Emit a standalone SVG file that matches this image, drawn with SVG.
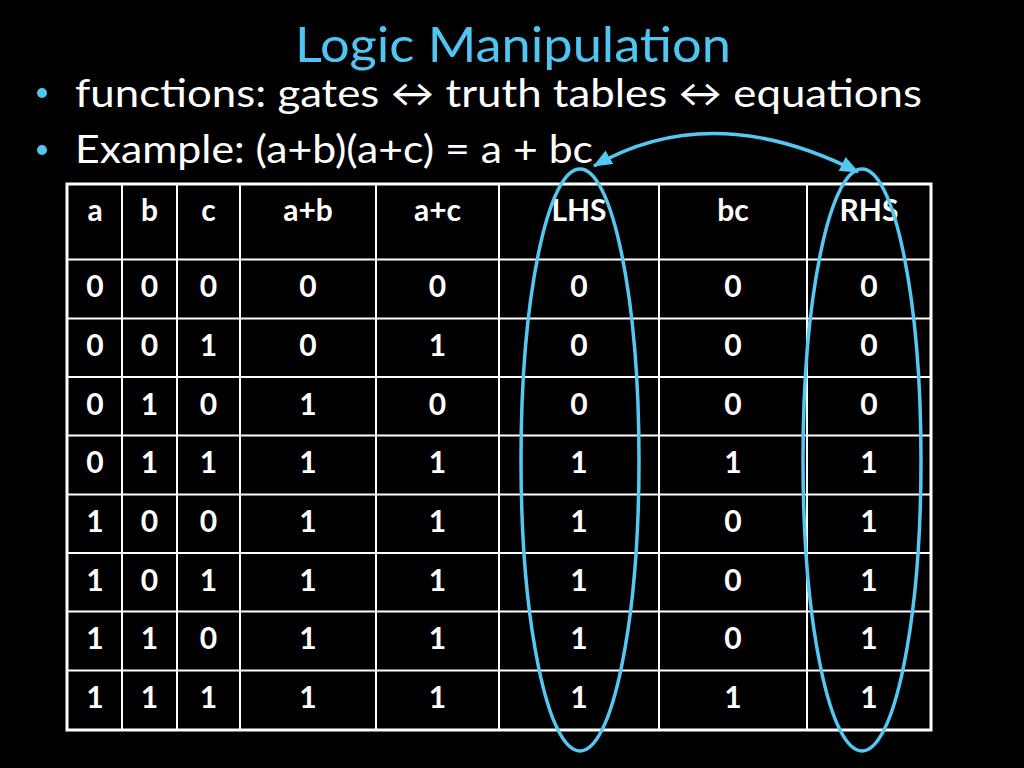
<svg xmlns="http://www.w3.org/2000/svg" width="1024" height="768" viewBox="0 0 1024 768">
<defs>
<style>
.t{font-family:Lato,"Open Sans","Liberation Sans",sans-serif;fill:#fff}
.title{font-family:Lato,"Open Sans","Liberation Sans",sans-serif;fill:#4FC6F2;font-size:48px}
.bul{font-size:38px}
.c{font-family:Lato,"Open Sans","Liberation Sans",sans-serif;fill:#fff;font-size:30px;font-weight:bold;text-anchor:middle}
.grid{stroke:#fff;stroke-width:2;fill:none}
.outer{stroke:#fff;stroke-width:3;fill:none}
.ell{stroke:#55C8F2;stroke-width:3.5;fill:none}
.dot{fill:#4FC6F2}
</style>
<marker id="ah" markerUnits="userSpaceOnUse" markerWidth="20" markerHeight="16" refX="16" refY="7" orient="auto-start-reverse" viewBox="0 0 18 14">
<path d="M0,0 L17,7 L0,14 Z" fill="#55C8F2"/>
</marker>
</defs>
<rect width="1024" height="768" fill="#000"/>
<g id="title"><text class="title" x="513" y="62" text-anchor="middle" textLength="436" lengthAdjust="spacingAndGlyphs">Logic Manipulation</text></g>
<g id="bullets">
<circle class="dot" cx="42" cy="93" r="5"/>
<text class="t bul" x="75" y="107" textLength="847" lengthAdjust="spacingAndGlyphs">functions: gates ↔ truth tables ↔ equations</text>
<circle class="dot" cx="42" cy="150" r="5"/>
<text class="t bul" x="75" y="163" textLength="518" lengthAdjust="spacingAndGlyphs">Example: (a+b)(a+c) = a + bc</text>
</g>
<g id="table">
<g class="grid">
<path d="M122,184V730M177,184V730M240,184V730M376,184V730M499,184V730M659,184V730M807,184V730"/>
<path d="M67,259.5H931M67,318.5H931M67,377H931M67,435.5H931M67,494.5H931M67,553H931M67,611.5H931M67,670.5H931"/>
</g>
<rect class="outer" x="67" y="184" width="864" height="546"/>
<g id="header">
<text class="c" x="95" y="221">a</text><text class="c" x="149.5" y="221">b</text><text class="c" x="208.5" y="221">c</text><text class="c" x="308" y="221">a+b</text><text class="c" x="437.5" y="221">a+c</text><text class="c" x="579" y="221">LHS</text><text class="c" x="733" y="221">bc</text><text class="c" x="869" y="221">RHS</text>
</g>
<g id="r1"><text class="c" x="95" y="297">0</text><text class="c" x="149.5" y="297">0</text><text class="c" x="208.5" y="297">0</text><text class="c" x="308" y="297">0</text><text class="c" x="437.5" y="297">0</text><text class="c" x="579" y="297">0</text><text class="c" x="733" y="297">0</text><text class="c" x="869" y="297">0</text></g>
<g id="r2"><text class="c" x="95" y="356">0</text><text class="c" x="149.5" y="356">0</text><text class="c" x="208.5" y="356">1</text><text class="c" x="308" y="356">0</text><text class="c" x="437.5" y="356">1</text><text class="c" x="579" y="356">0</text><text class="c" x="733" y="356">0</text><text class="c" x="869" y="356">0</text></g>
<g id="r3"><text class="c" x="95" y="414.5">0</text><text class="c" x="149.5" y="414.5">1</text><text class="c" x="208.5" y="414.5">0</text><text class="c" x="308" y="414.5">1</text><text class="c" x="437.5" y="414.5">0</text><text class="c" x="579" y="414.5">0</text><text class="c" x="733" y="414.5">0</text><text class="c" x="869" y="414.5">0</text></g>
<g id="r4"><text class="c" x="95" y="473">0</text><text class="c" x="149.5" y="473">1</text><text class="c" x="208.5" y="473">1</text><text class="c" x="308" y="473">1</text><text class="c" x="437.5" y="473">1</text><text class="c" x="579" y="473">1</text><text class="c" x="733" y="473">1</text><text class="c" x="869" y="473">1</text></g>
<g id="r5"><text class="c" x="95" y="532">1</text><text class="c" x="149.5" y="532">0</text><text class="c" x="208.5" y="532">0</text><text class="c" x="308" y="532">1</text><text class="c" x="437.5" y="532">1</text><text class="c" x="579" y="532">1</text><text class="c" x="733" y="532">0</text><text class="c" x="869" y="532">1</text></g>
<g id="r6"><text class="c" x="95" y="590.5">1</text><text class="c" x="149.5" y="590.5">0</text><text class="c" x="208.5" y="590.5">1</text><text class="c" x="308" y="590.5">1</text><text class="c" x="437.5" y="590.5">1</text><text class="c" x="579" y="590.5">1</text><text class="c" x="733" y="590.5">0</text><text class="c" x="869" y="590.5">1</text></g>
<g id="r7"><text class="c" x="95" y="649">1</text><text class="c" x="149.5" y="649">1</text><text class="c" x="208.5" y="649">0</text><text class="c" x="308" y="649">1</text><text class="c" x="437.5" y="649">1</text><text class="c" x="579" y="649">1</text><text class="c" x="733" y="649">0</text><text class="c" x="869" y="649">1</text></g>
<g id="r8"><text class="c" x="95" y="708">1</text><text class="c" x="149.5" y="708">1</text><text class="c" x="208.5" y="708">1</text><text class="c" x="308" y="708">1</text><text class="c" x="437.5" y="708">1</text><text class="c" x="579" y="708">1</text><text class="c" x="733" y="708">1</text><text class="c" x="869" y="708">1</text></g>
</g>
<g id="lhs-ellipse"><ellipse class="ell" cx="580" cy="460" rx="59" ry="291"/></g>
<g id="rhs-ellipse"><ellipse class="ell" cx="862" cy="460" rx="59" ry="291"/></g>
<g id="connectors">
<path d="M594,166 Q712,98 858,172" fill="none" stroke="#55C8F2" stroke-width="3.5" marker-start="url(#ah)" marker-end="url(#ah)"/>
</g>
</svg>
